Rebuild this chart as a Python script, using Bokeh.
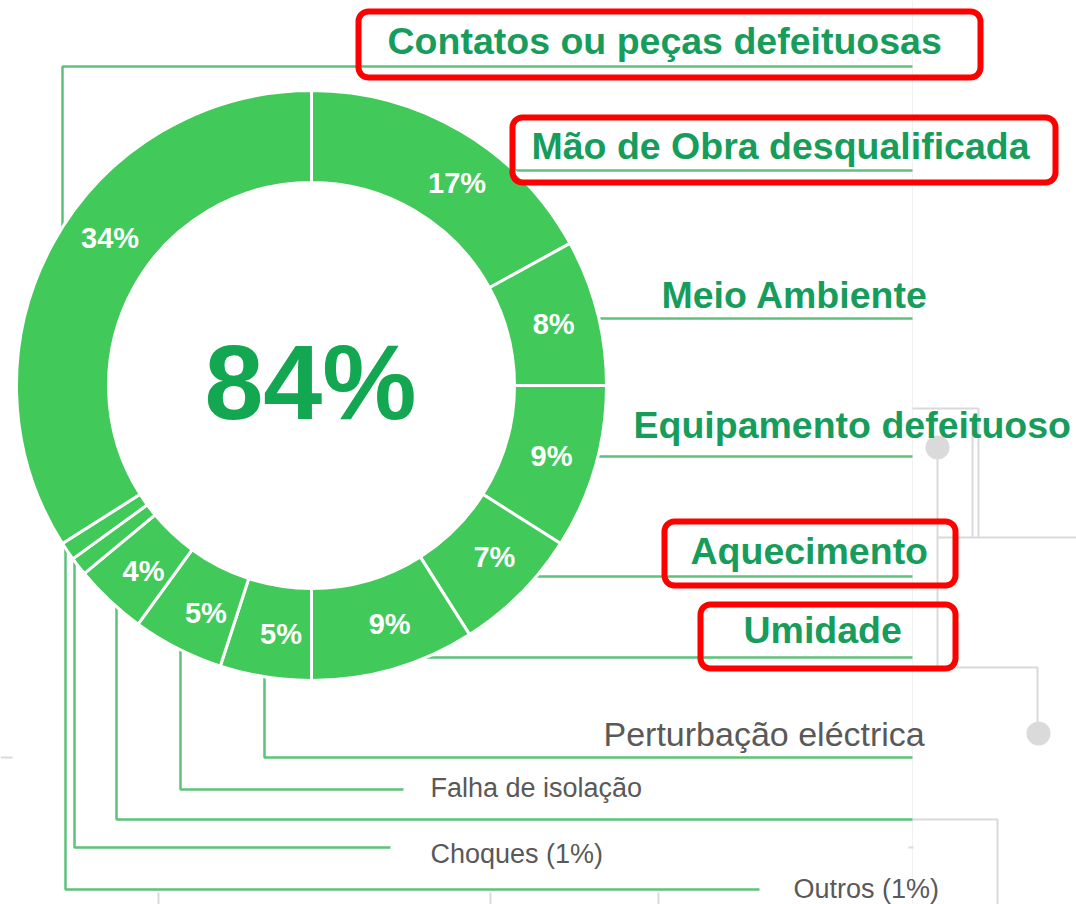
import math
from bokeh.plotting import figure
from bokeh.models import Range1d
from bokeh.core.properties import value
from bokeh.embed import file_html
from bokeh.resources import INLINE

# ---------------- data ----------------
categories = ["Mão de Obra desqualificada", "Meio Ambiente", "Equipamento defeituoso",
              "Aquecimento", "Umidade", "Perturbação eléctrica", "Falha de isolação",
              "", "Choques (1%)", "Outros (1%)", "Contatos ou peças defeituosas"]
shares = [17, 8, 9, 7, 9, 5, 5, 4, 1, 1, 34]
pct_labels = ["17%", "8%", "9%", "7%", "9%", "5%", "5%", "4%", "", "", "34%"]
center_label = "84%"
highlighted = ["Contatos ou peças defeituosas", "Mão de Obra desqualificada", "Aquecimento", "Umidade"]

# ---------------- layout (pixels, y downward) ----------------
W, H = 1076, 904
CX, CY = 311, 385
R_OUT, R_IN = 295, 203
LABEL_R = 250
label_shift = [5, 0, 0, -2, -2, -2, -2, -1, 0, 0, 7.5]   # degrees
leader_kind = ["h", "h", "h", "h", "h", "v", "v", "v", "v", "v", "up"]
leader_row = [170, 318, 456, 576, 657, 757, 789, 819, 847, 889, 66]
leader_x = [None, None, None, None, None, 264, 180, 116, 74, 65, 62]
leader_end = [912, 912, 912, 912, 912, 912, 403, 912, 390, 759, 912]
label_x = [531, 661, 633, 690, 743, 603, 430, None, 430, 793, 387]
label_base = [158, 307, 437, 563, 642, 745, 797, None, 863, 898, 53]
label_style = ["big", "big", "big", "big", "big", "mid", "small", None, "small", "small", "big"]
red_boxes = {"Contatos ou peças defeituosas": (358, 980, 11, 77),
             "Mão de Obra desqualificada": (512, 1055, 117, 182),
             "Aquecimento": (664, 955, 521, 585),
             "Umidade": (700, 955, 604, 668)}

RING = "#41C95A"
LEAD = "#5DC27A"
GREEN_TXT = "#179D5B"
CENTER_TXT = "#13A751"
GRAY_TXT = "#595959"
BG_LINE = "#DADADA"
FONT = value("Liberation Sans")
BASE_FIX = 0.34   # em offset of the rendered alphabetic baseline


def Y(py):
    return H - py


def YB(base_px, fs):
    return Y(base_px - BASE_FIX * fs)


p = figure(width=W, height=H, x_range=Range1d(0, W), y_range=Range1d(0, H),
           x_axis_type=None, y_axis_type=None, toolbar_location=None,
           output_backend="svg", min_border=0)
p.grid.visible = False
p.outline_line_color = None
p.background_fill_color = "white"
p.border_fill_color = "white"

# ---------------- faint background diagram ----------------
bg_xs = [[912, 912], [912, 978, 978], [937, W], [937, 937, 1037, 1037], [972, 972],
         [912, 997, 997], [908, 913], [158, 158], [490, 490], [658, 658], [0, 12]]
bg_ys = [[0, H], [408, 408, 537], [537, 537], [447, 667, 667, 733], [420, 537],
         [819, 819, H], [847, 847], [892, H], [892, H], [892, H], [757, 757]]
bg_w = [1, 2, 2, 2, 2, 2, 2, 2, 2, 2, 2]
bg_c = ["#F1F1F1"] + [BG_LINE] * 10
p.multi_line(xs=bg_xs, ys=[[Y(v) for v in ys] for ys in bg_ys], line_color=bg_c, line_width=bg_w)
p.scatter(x=[937, 1038], y=[Y(447), Y(733)], size=24, marker="circle",
          fill_color=BG_LINE, line_color=None)

# ---------------- leader lines ----------------
lx_all, ly_all = [], []
for i, kind in enumerate(leader_kind):
    row = leader_row[i]
    if kind == "h":
        x0 = CX + math.sqrt(R_OUT ** 2 - (row - CY) ** 2) - 3
        xs = [x0, leader_end[i]]
        ys = [row, row]
    else:
        lx = leader_x[i]
        d = math.sqrt(R_OUT ** 2 - (lx - CX) ** 2)
        y0 = CY + d - 3 if kind == "v" else CY - d + 3
        xs = [lx, lx, leader_end[i]]
        ys = [y0, row, row]
    lx_all.append(xs)
    ly_all.append([Y(v) for v in ys])
p.multi_line(xs=lx_all, ys=ly_all, line_color=LEAD, line_width=2.5)

# ---------------- ring ----------------
starts, ends, cum = [], [], 0.0
for s in shares:
    starts.append(math.pi / 2 - 2 * math.pi * cum / 100.0)
    cum += s
    ends.append(math.pi / 2 - 2 * math.pi * cum / 100.0)
p.annular_wedge(x=CX, y=Y(CY), inner_radius=R_IN, outer_radius=R_OUT,
                start_angle=starts, end_angle=ends, direction="clock",
                fill_color=RING, line_color="white", line_width=3)

# percentage labels in ring
px, py, pt = [], [], []
cum = 0.0
PFS = 29
for i, s in enumerate(shares):
    th = math.radians(3.6 * (cum + s / 2.0) + label_shift[i])
    cum += s
    if not pct_labels[i]:
        continue
    xc = CX + LABEL_R * math.sin(th)
    yc = CY - LABEL_R * math.cos(th)
    px.append(xc)
    py.append(YB(yc + 0.716 * PFS / 2, PFS))
    pt.append(pct_labels[i])
p.text(x=px, y=py, text=pt, text_font=FONT, text_font_size=f"{PFS}px", text_font_style="bold",
       text_color="white", text_align="center", text_baseline="alphabetic")

# centre value
CFS = 106
p.text(x=[CX - 1], y=[YB(418, CFS)], text=[center_label], text_font=FONT, text_font_size=f"{CFS}px",
       text_font_style="bold", text_color=CENTER_TXT, text_align="center", text_baseline="alphabetic")

# ---------------- category labels ----------------
styles = {"big": (37.5, "bold", GREEN_TXT),
          "mid": (34, "normal", GRAY_TXT),
          "small": (27, "normal", GRAY_TXT)}
for st, (fs, fw, col) in styles.items():
    idx = [i for i in range(len(categories)) if label_style[i] == st]
    p.text(x=[label_x[i] for i in idx], y=[YB(label_base[i], fs) for i in idx],
           text=[categories[i] for i in idx], text_font=FONT, text_font_size=f"{fs}px",
           text_font_style=fw, text_color=col, text_align="left", text_baseline="alphabetic")

# ---------------- red highlight boxes ----------------
bl, br, bt, bb = [], [], [], []
for name in highlighted:
    l, r, t, b = red_boxes[name]
    bl.append(l); br.append(r); bt.append(Y(t)); bb.append(Y(b))
p.quad(left=bl, right=br, top=bt, bottom=bb, fill_color=None, line_color="#FF0000",
       line_width=6, border_radius=10)

open("out.html", "w").write(file_html(p, INLINE))
